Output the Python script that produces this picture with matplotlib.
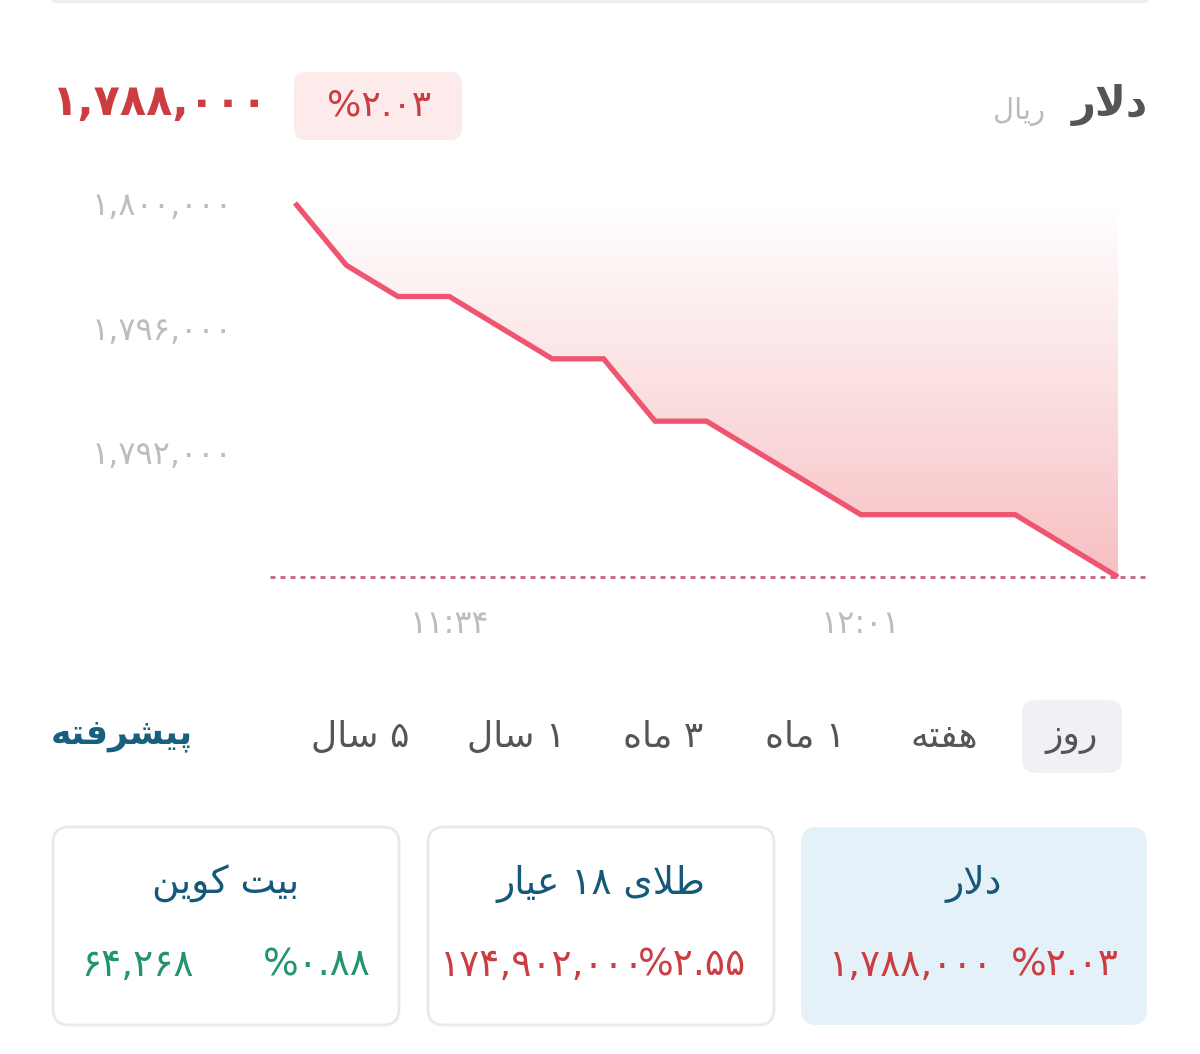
import re
import numpy as np
import matplotlib
matplotlib.use("Agg")
import matplotlib.pyplot as plt
from matplotlib.patches import FancyBboxPatch
from matplotlib.colors import LinearSegmentedColormap
from matplotlib.ticker import FixedLocator, FuncFormatter

plt.rcParams['font.family'] = ['DejaVu Sans']

# ---------------- data ----------------
prices = [1800000, 1798000, 1797000, 1797000, 1796000, 1795000, 1795000,
          1793000, 1793000, 1792000, 1791000, 1790000, 1790000, 1790000,
          1790000, 1789000, 1788000]
y_ticks = [1800000, 1796000, 1792000]
x_tick_idx = [3, 11]
x_tick_labels = ["11:34", "12:01"]

title = "دلار"
unit = "ریال"
current_price = 1788000
current_change = 2.03

tabs = ["روز", "هفته", "۱ ماه", "۳ ماه", "۱ سال", "۵ سال"]
advanced = "پیشرفته"

card_names = ["دلار", "طلای ۱۸ عیار", "بیت کوین"]
card_prices = [1788000, 174902000, 64268]
card_changes = [2.03, 2.55, 0.88]
card_colors = ["#cc3d42", "#cc3d42", "#23956a"]

# ---------------- Persian shaping helpers ----------------
FORMS = {
    '\u0627': ('\uFE8D', '\uFE8E', None, None),
    '\u0628': ('\uFE8F', '\uFE90', '\uFE91', '\uFE92'),
    '\u067E': ('\uFB56', '\uFB57', '\uFB58', '\uFB59'),
    '\u062A': ('\uFE95', '\uFE96', '\uFE97', '\uFE98'),
    '\u062F': ('\uFEA9', '\uFEAA', None, None),
    '\u0631': ('\uFEAD', '\uFEAE', None, None),
    '\u0632': ('\uFEAF', '\uFEB0', None, None),
    '\u0633': ('\uFEB1', '\uFEB2', '\uFEB3', '\uFEB4'),
    '\u0634': ('\uFEB5', '\uFEB6', '\uFEB7', '\uFEB8'),
    '\u0637': ('\uFEC1', '\uFEC2', '\uFEC3', '\uFEC4'),
    '\u0639': ('\uFEC9', '\uFECA', '\uFECB', '\uFECC'),
    '\u0641': ('\uFED1', '\uFED2', '\uFED3', '\uFED4'),
    '\u06A9': ('\uFB8E', '\uFB8F', '\uFB90', '\uFB91'),
    '\u0644': ('\uFEDD', '\uFEDE', '\uFEDF', '\uFEE0'),
    '\u0645': ('\uFEE1', '\uFEE2', '\uFEE3', '\uFEE4'),
    '\u0646': ('\uFEE5', '\uFEE6', '\uFEE7', '\uFEE8'),
    '\u0647': ('\uFEE9', '\uFEEA', '\uFEEB', '\uFEEC'),
    '\u0648': ('\uFEED', '\uFEEE', None, None),
    '\u06CC': ('\uFBFC', '\uFBFD', '\uFBFE', '\uFBFF'),
}
LAM_ALEF = ('\uFEFB', '\uFEFC')


def shape(s):
    out = []
    i = 0
    while i < len(s):
        ch = s[i]
        if ch not in FORMS:
            out.append(ch)
            i += 1
            continue
        prev = s[i - 1] if i > 0 else ''
        pj = prev in FORMS and FORMS[prev][2] is not None
        if ch == '\u0644' and i + 1 < len(s) and s[i + 1] == '\u0627':
            out.append(LAM_ALEF[1] if pj else LAM_ALEF[0])
            i += 2
            continue
        nxt = s[i + 1] if i + 1 < len(s) else ''
        f = FORMS[ch]
        nj = f[2] is not None and nxt in FORMS
        if pj and nj:
            out.append(f[3])
        elif pj:
            out.append(f[1])
        elif nj:
            out.append(f[2])
        else:
            out.append(f[0])
        i += 1
    return ''.join(out)


def fa(s):
    shaped = shape(s)
    toks = re.findall(r'[0-9\u06F0-\u06F9.,:%]+|[^0-9\u06F0-\u06F9.,:%]+', shaped)
    vis = []
    for t in reversed(toks):
        if re.match(r'[0-9\u06F0-\u06F9.,:%]', t):
            vis.append(t)
        else:
            vis.append(t[::-1])
    return ''.join(vis)


def fa_digits(s):
    return s.translate(str.maketrans('0123456789', '۰۱۲۳۴۵۶۷۸۹'))


def fmt_price(v):
    return fa_digits(f"{v:,.0f}")


def fmt_pct(v):
    return fa_digits(f"%{v:.2f}")


# ---------------- figure ----------------
W, H = 1200, 1054
fig = plt.figure(figsize=(W / 100, H / 100), dpi=100)
fig.patch.set_facecolor('white')

bg = fig.add_axes([0, 0, 1, 1])
bg.set_xlim(0, W)
bg.set_ylim(H, 0)
bg.axis('off')

# top separator
bg.plot([52, 1147], [1, 1], color='#eeeeee', lw=2.5, solid_capstyle='butt')

# header
bg.text(1148, 105, fa(title), ha='right', va='center', fontsize=30,
        fontweight='bold', color='#555555')
bg.text(1045, 112, fa(unit), ha='right', va='center', fontsize=21,
        color='#bbbbbb')
bg.text(52, 103, fmt_price(current_price), ha='left', va='center',
        fontsize=31, fontweight='bold', color='#cc3d42')
bg.add_patch(FancyBboxPatch((294, 72), 168, 68,
                            boxstyle='round,pad=0,rounding_size=12',
                            fc='#fdeaea', ec='none'))
bg.text(379, 105, fmt_pct(current_change), ha='center', va='center',
        fontsize=26, color='#cc3d42')

# tabs
tab_x = [1072, 944, 805, 663, 516, 360]
bg.add_patch(FancyBboxPatch((1022, 700), 100, 73,
                            boxstyle='round,pad=0,rounding_size=14',
                            fc='#f0f1f5', ec='none'))
for lab, x in zip(tabs, tab_x):
    bg.text(x, 737, fa(lab), ha='center', va='center', fontsize=26,
            color='#555555')
bg.text(122, 735, fa(advanced), ha='center', va='center', fontsize=25,
        fontweight='bold', color='#17607f')

# cards
card_x = [801, 428, 53]
card_w = 346
for i, (name, pr, ch, col) in enumerate(zip(card_names, card_prices,
                                              card_changes, card_colors)):
    x0 = card_x[i]
    if i == 0:
        bg.add_patch(FancyBboxPatch((x0, 827), card_w, 198,
                                    boxstyle='round,pad=0,rounding_size=16',
                                    fc='#e4f1f8', ec='none'))
    else:
        bg.add_patch(FancyBboxPatch((x0, 827), card_w, 198,
                                    boxstyle='round,pad=0,rounding_size=16',
                                    fc='white', ec='#e2ebef', lw=2))
    bg.text(x0 + card_w / 2, 884, fa(name), ha='center', va='center',
            fontsize=27, color='#14587a')
    lpad = 12 if pr > 10**8 else 28
    bg.text(x0 + lpad, 966, fmt_price(pr), ha='left', va='center',
            fontsize=27, color=col)
    bg.text(x0 + card_w - 28, 966, fmt_pct(ch), ha='right', va='center',
            fontsize=27, color=col)

# ---------------- chart ----------------
left_px, right_px, top_px, bot_px = 270, 1148, 203, 577
ax = fig.add_axes([left_px / W, 1 - bot_px / H,
                   (right_px - left_px) / W, (bot_px - top_px) / H])
ax.patch.set_alpha(0)
step = (1118 - 295) / 16
xlim = (-(295 - left_px) / step, 16 + (right_px - 1118) / step)
ylim = (1788000, 1800000)
for s in ax.spines.values():
    s.set_visible(False)

x = np.arange(len(prices))
coll = ax.fill_between(x, prices, ylim[1], facecolor='none', edgecolor='none')
clip_path = coll.get_paths()[0]
cmap = LinearSegmentedColormap.from_list('g', ['#f7bfc2', '#fbe0e1', '#ffffff'])
grad = np.linspace(1, 0, 256)[:, None]
im = ax.imshow(grad, cmap=cmap, aspect='auto', origin='upper',
               extent=[x[0], x[-1], ylim[0], ylim[1]], zorder=1, vmin=0, vmax=1)
im.set_clip_path(clip_path, ax.transData)
ax.set_xlim(*xlim)
ax.set_ylim(*ylim)

ax.axhline(prices[-1], color='#c4657f', lw=2, ls=(0, (1.8, 1.8)), zorder=2,
           clip_on=False)
ax.plot(x, prices, color='#ef5570', lw=3.8, zorder=3, clip_on=False,
        solid_joinstyle='miter', solid_capstyle='butt')

ax.yaxis.set_major_locator(FixedLocator(y_ticks))
ax.yaxis.set_major_formatter(FuncFormatter(lambda v, p: fmt_price(v)))
ax.set_xticks(x_tick_idx)
ax.set_xticklabels([fa_digits(t) for t in x_tick_labels])
ax.tick_params(axis='y', length=0, pad=27, labelsize=23, labelcolor='#bdbdbd')
ax.tick_params(axis='x', length=0, pad=23, labelsize=23, labelcolor='#bdbdbd')

fig.savefig('out.png', dpi=100, facecolor='white')
